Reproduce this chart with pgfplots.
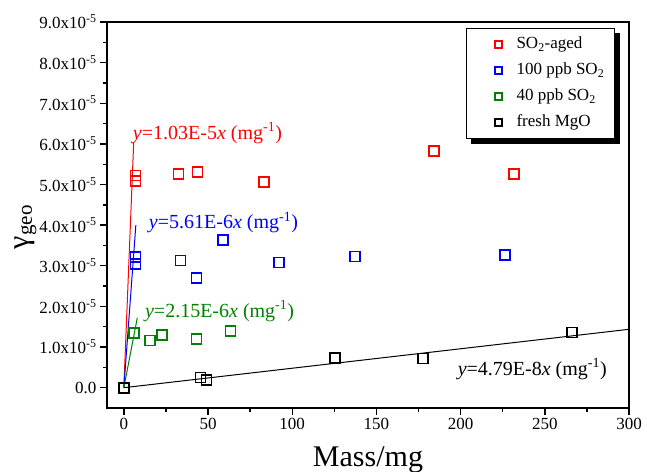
\documentclass[border=0pt]{standalone}
\usepackage{fontspec}
\setmainfont{Liberation Serif}
\usepackage{pgfplots}
\pgfplotsset{compat=1.18}
\usetikzlibrary{calc}

\definecolor{cred}{RGB}{255,0,0}
\definecolor{cblue}{RGB}{0,0,255}
\definecolor{cgreen}{RGB}{0,128,0}

\pgfplotsset{
  sq/.style={only marks, mark=square, mark size=5pt, line width=1.7pt,
    mark options={draw=#1, fill=none},
    legend image code/.code={\path[draw=none] (0pt,0pt) -- (40pt,0pt);
      \draw[##1, mark size=3.6pt, line width=1.5pt] plot coordinates {(22pt,0pt)};}},
}

\begin{document}
\begin{tikzpicture}
\begin{axis}[
  name=ax,
  scale only axis,
  width=522pt, height=386pt,
  xmin=-10, xmax=300, ymin=-0.5e-5, ymax=9e-5,
  axis line style={line width=1.4pt},
  xtick={0,50,100,150,200,250,300},
  minor xtick={25,75,125,175,225,275},
  ytick={0,1e-5,2e-5,3e-5,4e-5,5e-5,6e-5,7e-5,8e-5,9e-5},
  minor ytick={0.5e-5,1.5e-5,2.5e-5,3.5e-5,4.5e-5,5.5e-5,6.5e-5,7.5e-5,8.5e-5},
  yticklabels={0.0,1.0x10\textsuperscript{-5},2.0x10\textsuperscript{-5},3.0x10\textsuperscript{-5},4.0x10\textsuperscript{-5},5.0x10\textsuperscript{-5},6.0x10\textsuperscript{-5},7.0x10\textsuperscript{-5},8.0x10\textsuperscript{-5},9.0x10\textsuperscript{-5}},
  scaled y ticks=false,
  /pgf/number format/assume math mode=true,
  tick align=outside, xtick pos=bottom, ytick pos=left,
  major tick length=7pt, minor tick length=4pt,
  every tick/.style={line width=1.4pt, black},
  tick label style={font=\fontsize{17}{20}\selectfont},
  xlabel={Mass/mg}, ylabel={γ\textsubscript{geo}},
  label style={font=\fontsize{30}{34}\selectfont},
  xlabel style={yshift=-10pt},
  ylabel style={yshift=-4pt, xshift=-12pt},
  legend style={name=leg, at={(0.688,0.984)}, anchor=north west, draw=black, line width=0.8pt,
    fill=white, font=\fontsize{17}{20}\selectfont,
    nodes={inner xsep=0pt, inner ysep=0pt, text height=12pt, text depth=4pt},
    row sep=10pt, inner xsep=10pt, inner ysep=8pt},
  legend cell align=left,
]
% fitted lines
\addplot[cred, line width=1pt, forget plot] coordinates {(0,0) (5.85,6.03e-5)};
\addplot[cblue, line width=1pt, forget plot] coordinates {(0,0) (7.13,4.0e-5)};
\addplot[cgreen, line width=1pt, forget plot] coordinates {(0,0) (8.0,1.72e-5)};
\addplot[black, line width=1pt, forget plot] coordinates {(0,0) (300,1.437e-5)};

\addplot[sq=cred, cred] coordinates {
  (6.9,5.22e-5) (6.9,5.09e-5) (32.5,5.26e-5) (43.8,5.30e-5)
  (83.3,5.07e-5) (184.2,5.83e-5) (231.9,5.26e-5)};
\addlegendentry{SO\textsubscript{2}-aged}
\addplot[sq=cblue, cblue] coordinates {
  (6.9,3.21e-5) (6.9,3.05e-5) (33.7,3.13e-5) (43.2,2.70e-5)
  (59.0,3.63e-5) (92.1,3.08e-5) (137.2,3.23e-5) (226.2,3.27e-5)};
\addlegendentry{100 ppb SO\textsubscript{2}}
\addplot[sq=cgreen, cgreen] coordinates {
  (6.1,1.34e-5) (15.4,1.16e-5) (22.6,1.30e-5) (43.2,1.19e-5) (63.4,1.40e-5)};
\addlegendentry{40 ppb SO\textsubscript{2}}
\addplot[sq=black, black] coordinates {
  (0,0) (45.6,0.25e-5) (49.1,0.19e-5) (125.3,0.73e-5) (177.6,0.72e-5) (266,1.36e-5)};
\addlegendentry{fresh MgO}

\begin{scope}[font=\fontsize{20}{24}\selectfont, inner sep=0pt]
\node[cred, anchor=base west] at (axis cs:5.3,6.11e-5) {\textit{y}=1.03E-5\textit{x} (mg\textsuperscript{-1})};
\node[cblue, anchor=base west] at (axis cs:14.8,3.91e-5) {\textit{y}=5.61E-6\textit{x} (mg\textsuperscript{-1})};
\node[cgreen, anchor=base west] at (axis cs:12.5,1.73e-5) {\textit{y}=2.15E-6\textit{x} (mg\textsuperscript{-1})};
\node[black, anchor=base west] at (axis cs:198.2,0.31e-5) {\textit{y}=4.79E-8\textit{x} (mg\textsuperscript{-1})};
\end{scope}
\end{axis}
% legend shadow
\fill[black] ($(leg.north east)+(0,-5pt)$) rectangle ($(leg.south east)+(5pt,-5pt)$);
\fill[black] ($(leg.south west)+(5pt,0)$) rectangle ($(leg.south east)+(5pt,-5pt)$);
\pgfresetboundingbox
\path[use as bounding box] (ax.south west) ++(-107pt,-63pt) rectangle ++(647pt,471pt);
\end{tikzpicture}
\end{document}
